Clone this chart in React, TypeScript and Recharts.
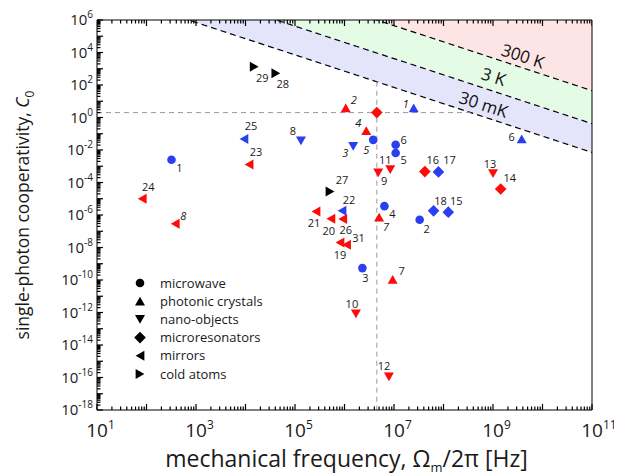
import React from 'react';
import {
  ComposedChart,
  XAxis,
  YAxis,
  Area,
  Line,
  Scatter,
  ReferenceLine,
  Legend,
} from 'recharts';

const FONT = '"Open Sans", sans-serif';
const RED = '#ff0a0a';
const BLUE = '#2a3ff2';
const INK = '#1a1a1a';

// thermal-occupation boundaries, read at the two frame edges (f = 10 Hz and 1e11 Hz)
const bandFreq = [1e1, 1e11];
const c0At30mK = [7.1e7, 7.1e-3];
const c0At3K = [4.2e9, 4.2e-1];
const c0At300K = [4.5e11, 4.5e1];
const bandCeiling = [1e20, 1e20];

const tempLabels = [
  { f: 6.4e8, c: 6.2, text: '30 mK' },
  { f: 1.03e9, c: 3.2e2, text: '3 K' },
  { f: 4.0e9, c: 6.0e3, text: '300 K' },
];

// gray cross-hair through the unlabeled microresonator
const crossF = 4.5e6;
const crossC = 2.0;
const crossTopC = 1.6e2;
const crossRightF = 3.5e8;

// axis decades and labelled exponents
const xDecades = [1, 2, 3, 4, 5, 6, 7, 8, 9, 10, 11];
const xLabelExps = [1, 3, 5, 7, 9, 11];
const yDecades = [-18, -17, -16, -15, -14, -13, -12, -11, -10, -9, -8, -7, -6, -5, -4, -3, -2, -1, 0, 1, 2, 3, 4, 5, 6];
const yLabelExps = [-18, -16, -14, -12, -10, -8, -6, -4, -2, 0, 2, 4, 6];

// [frequency (Hz), C0, reference, colour group]
type Row = [number, number, string, 'r' | 'b' | 'k'];

const microwave: Row[] = [
  [3.2e2, 2.5e-3, '1', 'b'],
  [1.08e7, 2.1e-2, '6', 'b'],
  [1.08e7, 6.6e-3, '5', 'b'],
  [3.8e6, 4.2e-2, '5', 'b'],
  [6.4e6, 3.5e-6, '4', 'b'],
  [3.3e7, 5.1e-7, '2', 'b'],
  [2.3e6, 5.4e-10, '3', 'b'],
];
const photonic: Row[] = [
  [1.06e6, 3.9, '2', 'r'],
  [2.75e6, 1.55e-1, '4', 'r'],
  [5.0e6, 7.4e-7, '7', 'r'],
  [9.4e6, 1.1e-10, '7', 'r'],
  [2.5e7, 3.9, '1', 'b'],
  [3.8e9, 4.8e-2, '6', 'b'],
];
const nano: Row[] = [
  [8.4e6, 6.2e-4, '11', 'r'],
  [4.8e6, 3.9e-4, '9', 'r'],
  [1.0e9, 3.5e-4, '13', 'r'],
  [1.7e6, 8.3e-13, '10', 'r'],
  [7.9e6, 1.1e-16, '12', 'r'],
  [1.32e5, 3.6e-2, '8', 'b'],
  [1.5e6, 1.66e-2, '3', 'b'],
];
const microres: Row[] = [
  [4.5e6, 2.0, '', 'r'],
  [4.2e7, 4.7e-4, '16', 'r'],
  [1.43e9, 4.0e-5, '14', 'r'],
  [7.9e7, 4.5e-4, '17', 'b'],
  [6.3e7, 1.8e-6, '18', 'b'],
  [1.25e8, 1.5e-6, '15', 'b'],
];
const mirrors: Row[] = [
  [1.18e4, 1.3e-3, '23', 'r'],
  [82, 1.0e-5, '24', 'r'],
  [3.8e2, 2.9e-7, '8', 'r'],
  [2.65e5, 1.66e-6, '21', 'r'],
  [5.3e5, 5.9e-7, '20', 'r'],
  [9.2e5, 5.6e-7, '26', 'r'],
  [8.1e5, 2.0e-8, '19', 'r'],
  [1.1e6, 1.5e-8, '31', 'r'],
  [9.3e3, 4.8e-2, '25', 'b'],
  [8.9e5, 1.8e-6, '22', 'b'],
];
const coldAtoms: Row[] = [
  [1.5e4, 1.35e3, '29', 'k'],
  [4.1e4, 5.2e2, '28', 'k'],
  [5.1e5, 2.8e-5, '27', 'k'],
];

// label placement (px offset from marker, italic), parallel to the rows above
type Place = [number, number, boolean?];
const microwavePlace: Place[] = [[8, 8], [8, -5], [8, 7], [-7, 10, true], [8, 8], [7, 9], [3, 10]];
const photonicPlace: Place[] = [[8, -8, true], [-8, -8, true], [7, 10, true], [9, -8], [-8, -4, true], [-10, -2]];
const nanoPlace: Place[] = [[-5, -10], [6, 8], [-3, -10], [-4, -10], [-5, -11], [-8, -10], [-8, 7, true]];
const microresPlace: Place[] = [[0, 0], [8, -12], [9, -11], [11, -12], [7, -10], [8, -11]];
const mirrorsPlace: Place[] = [[7, -12], [6, -12], [8, -8, true], [-2, 12], [-2, 12], [3, 11], [0, 12], [12, -7], [7, -13], [7, -11]];
const coldAtomsPlace: Place[] = [[8, 11], [7, 11], [12, -11]];

type Kind = 'circle' | 'up' | 'down' | 'diamond' | 'left' | 'right';

const groups: { name: string; kind: Kind; rows: Row[]; place: Place[] }[] = [
  { name: 'microwave', kind: 'circle', rows: microwave, place: microwavePlace },
  { name: 'photonic crystals', kind: 'up', rows: photonic, place: photonicPlace },
  { name: 'nano-objects', kind: 'down', rows: nano, place: nanoPlace },
  { name: 'microresonators', kind: 'diamond', rows: microres, place: microresPlace },
  { name: 'mirrors', kind: 'left', rows: mirrors, place: mirrorsPlace },
  { name: 'cold atoms', kind: 'right', rows: coldAtoms, place: coldAtomsPlace },
];

const toneColor = { r: RED, b: BLUE, k: '#000' };

const bandData = bandFreq.map((f, i) => ({
  f,
  t30: c0At30mK[i],
  t3: c0At3K[i],
  t300: c0At300K[i],
  b30: [c0At30mK[i], c0At3K[i]],
  b3: [c0At3K[i], c0At300K[i]],
  b300: [c0At300K[i], bandCeiling[i]],
}));

const pow = (m: number, e: number) => Number(`${m}e${e}`);
const withMinors = (decades: number[]) => {
  const out: number[] = [];
  decades.forEach((e, i) => {
    out.push(pow(1, e));
    if (i < decades.length - 1) for (let m = 2; m <= 9; m++) out.push(pow(m, e));
  });
  return out;
};
const xTicks = withMinors(xDecades);
const yTicks = withMinors(yDecades);

const decadeOf = (v: number) => {
  const l = Math.log10(v);
  const e = Math.round(l);
  return Math.abs(l - e) < 1e-6 ? e : null;
};

// inward tick marks along the top edge, placed by the chart's scales
const topTicks = xTicks.map((v) => ({ f: v, c: 1e6, v }));

function mark(kind: Kind, x: number, y: number, fill: string) {
  const t = 5, h = 4.4;
  switch (kind) {
    case 'circle':
      return <circle cx={x} cy={y} r={4.3} fill={fill} />;
    case 'up':
      return <polygon points={`${x - t},${y + h} ${x + t},${y + h} ${x},${y - h}`} fill={fill} />;
    case 'down':
      return <polygon points={`${x - t},${y - h} ${x + t},${y - h} ${x},${y + h}`} fill={fill} />;
    case 'diamond':
      return <polygon points={`${x},${y - 5.8} ${x + 5.8},${y} ${x},${y + 5.8} ${x - 5.8},${y}`} fill={fill} />;
    case 'left':
      return <polygon points={`${x + h},${y - t} ${x + h},${y + t} ${x - h},${y}`} fill={fill} />;
    default:
      return <polygon points={`${x - h},${y - t} ${x - h},${y + t} ${x + h},${y}`} fill={fill} />;
  }
}

const topTickShape = (p: any) => {
  const { cx, cy, payload } = p;
  if (cx == null || cy == null) return <g />;
  const len = decadeOf(payload.v) !== null ? 6 : 3.5;
  return <rect x={cx - 0.6} y={cy} width={1.2} height={len} fill="#000" />;
};

const XTick = (props: any) => {
  const x = Number(props.x);
  const y = Number(props.y);
  const e = decadeOf(props.payload.value);
  const len = e !== null ? 6 : 3.5;
  return (
    <g>
      <rect x={x - 0.6} y={y - len} width={1.2} height={len} fill="#000" />
      {e !== null && xLabelExps.includes(e) && (
        <g fontFamily={FONT} fill={INK}>
          <text x={x} y={y + 27} fontSize={19} textAnchor="middle">10</text>
          <text x={x + 11} y={y + 19} fontSize={12} textAnchor="start">{e}</text>
        </g>
      )}
    </g>
  );
};

const YTick = (props: any) => {
  const x = Number(props.x);
  const y = Number(props.y);
  const e = decadeOf(props.payload.value);
  const len = e !== null ? 6 : 3.5;
  return (
    <g>
      <rect x={x} y={y - 0.6} width={len} height={1.2} fill="#000" />
      {e !== null && yLabelExps.includes(e) && (
        <text x={x - 4} y={y + 5} fontSize={15} textAnchor="end" fontFamily={FONT} fill={INK}>
          10
          <tspan dy={-7} fontSize={10}>{e}</tspan>
        </text>
      )}
    </g>
  );
};

const XTitle = (props: any) => {
  const vb = props.viewBox || { x: 89, y: 402, width: 495, height: 65 };
  return (
    <text x={vb.x + vb.width / 2 + 2} y={vb.y + 57} textAnchor="middle" fontSize={23} fontFamily={FONT} fill={INK}>
      mechanical frequency, Ω
      <tspan dy={5} fontSize={13}>m</tspan>
      <tspan dy={-5}>/2π [Hz]</tspan>
    </text>
  );
};

const YTitle = (props: any) => {
  const vb = props.viewBox || { x: 0, y: 12, width: 89, height: 390 };
  const cx = vb.x + 21;
  const cy = vb.y + vb.height / 2;
  return (
    <text
      x={cx}
      y={cy}
      transform={`rotate(-90 ${cx} ${cy})`}
      textAnchor="middle"
      fontSize={17.5}
      fontFamily={FONT}
      fill={INK}
    >
      single-photon cooperativity,{' '}
      <tspan fontStyle="italic">C</tspan>
      <tspan dy={5} fontSize={12}>0</tspan>
    </text>
  );
};

const LegendBox = () => (
  <svg width={170} height={114} style={{ display: 'block', overflow: 'visible' }}>
    {groups.map((g, i) => (
      <g key={g.name}>
        {mark(g.kind, 8, 10 + i * 18.2, '#000')}
        <text x={28} y={10 + i * 18.2} dy={4.5} fontSize={13} fontFamily={FONT} fill={INK}>
          {g.name}
        </text>
      </g>
    ))}
  </svg>
);

const makeShape = (kind: Kind) => (p: any) => {
  const { cx, cy, payload } = p;
  if (cx == null || cy == null) return <g />;
  return (
    <g>
      {mark(kind, cx, cy, toneColor[payload.tone as 'r' | 'b' | 'k'])}
      {payload.n && (
        <text
          x={cx + payload.dx}
          y={cy + payload.dy}
          dy={4}
          textAnchor="middle"
          fontSize={11}
          fontStyle={payload.it ? 'italic' : 'normal'}
          fontFamily={FONT}
          fill={INK}
        >
          {payload.n}
        </text>
      )}
    </g>
  );
};

const tempShape = (p: any) => {
  const { cx, cy, payload } = p;
  return (
    <text
      x={cx}
      y={cy}
      dy={6}
      transform={`rotate(18.2 ${cx} ${cy})`}
      textAnchor="middle"
      fontSize={17}
      fontFamily={FONT}
      fill="#111"
    >
      {payload.text}
    </text>
  );
};

export default function App() {
  return (
    <ComposedChart
      width={614}
      height={467}
      data={bandData}
      margin={{ top: 11, right: 29, bottom: 0, left: 0 }}
    >
      <XAxis
        dataKey="f"
        type="number"
        scale="log"
        domain={[1e1, 1e11]}
        allowDataOverflow
        ticks={xTicks}
        interval={0}
        tickSize={0}
        tickMargin={0}
        tickLine={false}
        tick={<XTick />}
        height={65}
        stroke="#000"
        label={<XTitle />}
      />
      <XAxis
        xAxisId="top"
        orientation="top"
        dataKey="f"
        type="number"
        scale="log"
        domain={[1e1, 1e11]}
        allowDataOverflow
        ticks={[1e1, 1e11]}
        tickLine={false}
        tick={false}
        height={1}
        stroke="#000"
      />
      <YAxis
        type="number"
        scale="log"
        domain={[1e-18, 1e6]}
        allowDataOverflow
        ticks={yTicks}
        interval={0}
        tickSize={0}
        tickMargin={0}
        tickLine={false}
        tick={<YTick />}
        width={89}
        stroke="#000"
        label={<YTitle />}
      />
      <YAxis
        yAxisId="right"
        orientation="right"
        type="number"
        scale="log"
        domain={[1e-18, 1e6]}
        allowDataOverflow
        ticks={[1e-18, 1e6]}
        tickLine={false}
        tick={false}
        width={1}
        stroke="#000"
      />

      <Area dataKey="b300" type="linear" stroke="none" fill="#fde5e5" fillOpacity={1} isAnimationActive={false} dot={false} activeDot={false} />
      <Area dataKey="b3" type="linear" stroke="none" fill="#e4fbe6" fillOpacity={1} isAnimationActive={false} dot={false} activeDot={false} />
      <Area dataKey="b30" type="linear" stroke="none" fill="#e4e4fa" fillOpacity={1} isAnimationActive={false} dot={false} activeDot={false} />
      <Line dataKey="t300" type="linear" stroke="#000" strokeWidth={1.2} strokeDasharray="6 4" dot={false} activeDot={false} isAnimationActive={false} />
      <Line dataKey="t3" type="linear" stroke="#000" strokeWidth={1.2} strokeDasharray="6 4" dot={false} activeDot={false} isAnimationActive={false} />
      <Line dataKey="t30" type="linear" stroke="#000" strokeWidth={1.2} strokeDasharray="6 4" dot={false} activeDot={false} isAnimationActive={false} />

      <ReferenceLine
        segment={[{ x: 1e1, y: crossC }, { x: crossRightF, y: crossC }]}
        stroke="#9a9a9a"
        strokeDasharray="5 4"
      />
      <ReferenceLine
        segment={[{ x: crossF, y: crossTopC }, { x: crossF, y: 1e-18 }]}
        stroke="#9a9a9a"
        strokeDasharray="5 4"
      />

      <Scatter data={topTicks} dataKey="c" shape={topTickShape} isAnimationActive={false} legendType="none" />
      <Scatter data={tempLabels} dataKey="c" shape={tempShape} isAnimationActive={false} legendType="none" />
      {groups.map((g) => (
        <Scatter
          key={g.name}
          name={g.name}
          data={g.rows.map((r, i) => ({
            f: r[0],
            c: r[1],
            n: r[2],
            tone: r[3],
            dx: g.place[i][0],
            dy: g.place[i][1],
            it: !!g.place[i][2],
          }))}
          dataKey="c"
          shape={makeShape(g.kind)}
          isAnimationActive={false}
        />
      ))}

      <Legend
        layout="vertical"
        align="center"
        verticalAlign="middle"
        content={() => <LegendBox />}
        wrapperStyle={{ left: 124, top: 265, width: 170, height: 114 }}
      />
    </ComposedChart>
  );
}
